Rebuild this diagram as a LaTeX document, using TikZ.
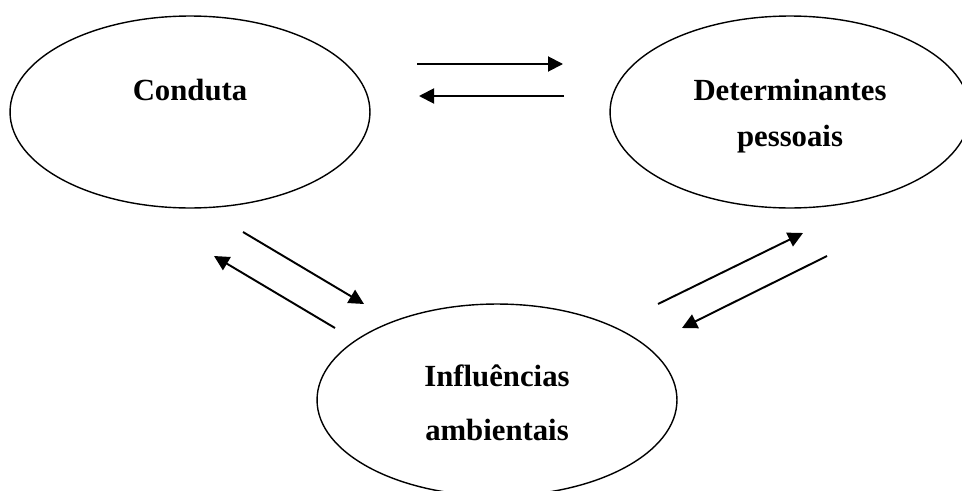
\documentclass[tikz,border=0pt]{standalone}
\usepackage{fontspec}
\setmainfont{Liberation Serif}
\usetikzlibrary{shapes.geometric,arrows.meta}
\tikzset{
  bolha/.style={ellipse, draw, line width=0.8pt, minimum width=7.2cm, minimum height=3.84cm, inner sep=0pt},
  rotulo/.style={anchor=base, font=\fontsize{17.5}{21}\selectfont\bfseries},
  seta/.style={line width=1.1pt, -{Triangle[length=0.3cm,width=0.3cm]}}
}
\begin{document}
\begin{tikzpicture}[x=0.02cm, y=-0.02cm]
    \useasboundingbox (0,0) rectangle (962,490);
    \clip (0,0) rectangle (962,490);
    \node[bolha] (conduta) at (190,112) {};
    \node[bolha] (determ) at (790,112) {};
    \node[bolha] (influ) at (497,400) {};
    \node[rotulo] (tconduta) at (190,100) {Conduta};
    \node[rotulo] (tdeterm1) at (790,100) {Determinantes};
    \node[rotulo] (tdeterm2) at (790,146) {pessoais};
    \node[rotulo] (tinflu1) at (497,386) {Influências};
    \node[rotulo] (tinflu2) at (497,440) {ambientais};
    % conduta <-> determinantes
    \coordinate (cd1) at (417,64);  \coordinate (cd2) at (563,64);
    \coordinate (dc1) at (564,96);  \coordinate (dc2) at (419,96);
    \draw[seta] (cd1) -- (cd2);
    \draw[seta] (dc1) -- (dc2);
    % conduta <-> influencias
    \coordinate (ci1) at (243,232); \coordinate (ci2) at (364,304);
    \coordinate (ic1) at (335,328); \coordinate (ic2) at (214,256);
    \draw[seta] (ci1) -- (ci2);
    \draw[seta] (ic1) -- (ic2);
    % influencias <-> determinantes
    \coordinate (id1) at (658,304); \coordinate (id2) at (803,233);
    \coordinate (di1) at (827,256); \coordinate (di2) at (682,328);
    \draw[seta] (id1) -- (id2);
    \draw[seta] (di1) -- (di2);
\end{tikzpicture}
\end{document}
